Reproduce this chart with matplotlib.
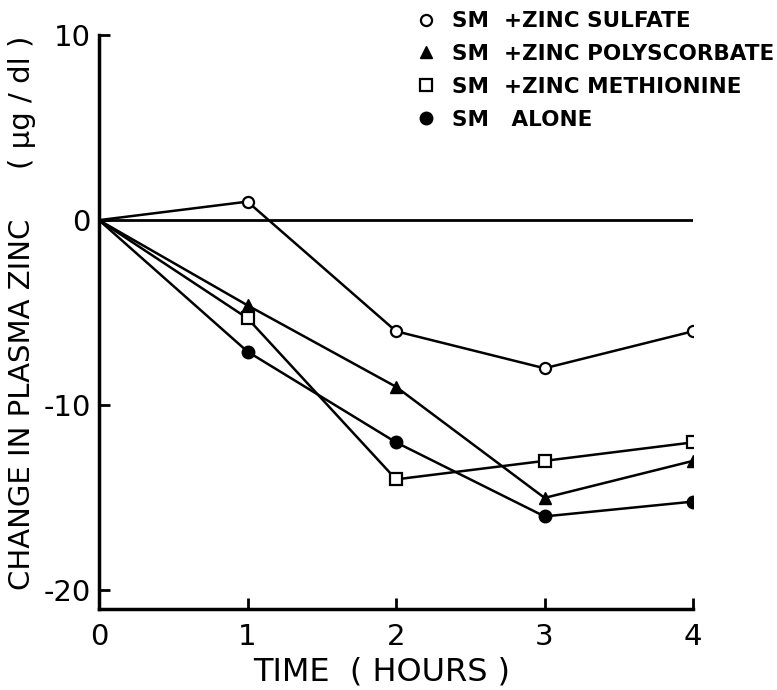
import matplotlib
matplotlib.use('Agg')
import matplotlib.pyplot as plt
from matplotlib.lines import Line2D

hours = [0, 1, 2, 3, 4]
sulfate = [0, 1.0, -6.0, -8.0, -6.0]
polyscorbate = [0, -4.6, -9.0, -15.0, -13.0]
methionine = [0, -5.3, -14.0, -13.0, -12.0]
alone = [0, -7.1, -12.0, -16.0, -15.2]

labels = ['SM  +ZINC SULFATE', 'SM  +ZINC POLYSCORBATE',
          'SM  +ZINC METHIONINE', 'SM   ALONE']
yticks = [-20, -10, 0, 10]
xticks = [0, 1, 2, 3, 4]

fig = plt.figure(figsize=(7.77, 6.9), dpi=100)
ax = fig.add_axes([0.1274, 0.1174, 0.7646, 0.8319])

styles = [
    dict(marker='o', mfc='white', mec='black', ms=8, mew=1.6),
    dict(marker='^', mfc='black', mec='black', ms=8),
    dict(marker='s', mfc='white', mec='black', ms=8, mew=1.6),
    dict(marker='o', mfc='black', mec='black', ms=9),
]
series = [sulfate, polyscorbate, methionine, alone]

ax.plot([hours[0], hours[-1]], [0, 0], color='black', lw=2, zorder=1)
for vals, st in zip(series, styles):
    ax.plot(hours[1:], vals[1:], color='black', ls='none', zorder=3, **st)
    ax.plot(hours, vals, color='black', lw=1.8, zorder=2)

ax.set_xlim(0, 4)
ax.set_ylim(-21, 10)
ax.set_xticks(xticks)
ax.set_yticks(yticks)
ax.set_xticklabels([str(t) for t in xticks], fontsize=21)
ax.set_yticklabels([str(t) for t in yticks], fontsize=21)
ax.tick_params(direction='in', length=8, width=2, pad=6)
ax.tick_params(axis='x', pad=10)
for s in ['top', 'right']:
    ax.spines[s].set_visible(False)
for s in ['left', 'bottom']:
    ax.spines[s].set_linewidth(2.5)

fig.text(382 / 777, 1 - 672 / 690, 'TIME  ( HOURS )', fontsize=23,
         ha='center', va='center')
fig.text(22 / 777, 1 - 404 / 690, 'CHANGE IN PLASMA ZINC', fontsize=21,
         rotation=90, ha='center', va='center')
fig.text(22 / 777, 1 - 102 / 690, '( \u03bcg / dl )', fontsize=21,
         rotation=90, ha='center', va='center')

handles = [Line2D([], [], ls='none', **st) for st in styles]
fig.legend(handles, labels, loc='upper left', bbox_to_anchor=(396 / 777, 1.012),
           frameon=False, handlelength=1.0, handletextpad=0.7,
           labelspacing=0.6, prop={'size': 15.5, 'weight': 'bold'})

plt.savefig('out.png', dpi=100)
